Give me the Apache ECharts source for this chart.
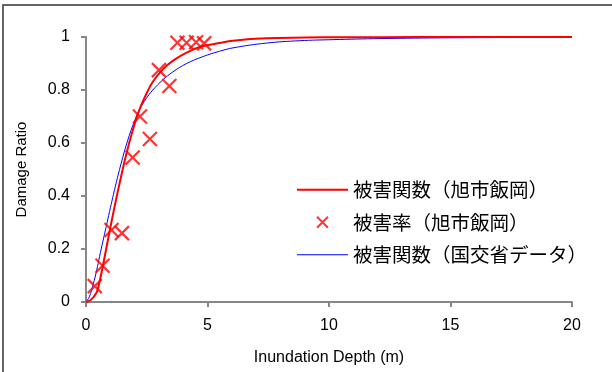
<!DOCTYPE html>
<html><head><meta charset="utf-8">
<script src="https://cdn.jsdelivr.net/npm/echarts@6/dist/echarts.min.js"></script>
<style>html,body{margin:0;padding:0;background:#fff}#c{width:612px;height:372px}</style>
</head><body><div id="c"></div>
<script>
// Tick labels
const xTicks = [0, 5, 10, 15, 20];
const yTicks = [0, 0.2, 0.4, 0.6, 0.8, 1];
// Series names
const nameRedFn = '被害関数（旭市飯岡）';
const nameRate = '被害率（旭市飯岡）';
const nameBlueFn = '被害関数（国交省データ）';
// Observed damage ratios (scatter)
const rateX = [0.36, 0.68, 1.05, 1.48, 1.92, 2.22, 2.63, 3.0, 3.43, 3.76, 4.14, 4.53, 4.86];
const rateY = [0.06, 0.137, 0.272, 0.26, 0.545, 0.70, 0.615, 0.875, 0.815, 0.978, 0.978, 0.98, 0.976];
// Damage function (Asahi Iioka)
const redX = [0, 0.2, 0.44, 0.56, 0.69, 0.83, 0.97, 1.1, 1.24, 1.38, 1.65, 1.93, 2.2, 2.48, 2.75, 3.16, 3.57, 4.12, 4.68, 5.49, 6.05, 7.42, 10, 12.1, 15, 20];
const redY = [0, 0.008, 0.037, 0.077, 0.134, 0.2, 0.266, 0.326, 0.388, 0.447, 0.555, 0.65, 0.726, 0.785, 0.831, 0.878, 0.91, 0.94, 0.962, 0.977, 0.986, 0.995, 0.999, 0.9995, 1, 1];
// Damage function (MLIT data)
const blueX = [0, 0.14, 0.3, 0.44, 0.56, 0.69, 0.83, 0.97, 1.1, 1.21, 1.38, 1.65, 1.93, 2.2, 2.48, 2.75, 3.16, 3.57, 4.12, 4.81, 5.49, 6.05, 7.42, 8.79, 10.16, 12.1, 15, 20];
const blueY = [0, 0.02, 0.068, 0.12, 0.172, 0.227, 0.284, 0.342, 0.394, 0.437, 0.5, 0.59, 0.667, 0.725, 0.768, 0.8, 0.838, 0.868, 0.899, 0.926, 0.946, 0.959, 0.977, 0.986, 0.99, 0.994, 0.997, 0.999];

const zip = (a, b) => a.map((v, i) => [v, b[i]]);
const crossPath = 'path://M0,0L10,10M10,0L0,10';
const latin = 'Liberation Sans, Arial, sans-serif';
const cjk = '"Noto Sans CJK JP", sans-serif';
const axisCol = '#878787';

const chart = echarts.init(document.getElementById('c'), null, {renderer: 'canvas'});
chart.setOption({
  animation: false,
  backgroundColor: '#fff',
  graphic: [{type: 'rect', shape: {x: 3, y: 5, width: 700, height: 500}, style: {fill: 'none', stroke: '#333', lineWidth: 1.5}, silent: true}],
  grid: {left: 86, right: 40, top: 37, bottom: 70},
  xAxis: {
    type: 'value', min: xTicks[0], max: xTicks[xTicks.length - 1], interval: 5,
    name: 'Inundation Depth (m)', nameLocation: 'middle', nameGap: 48,
    nameTextStyle: {fontFamily: latin, fontSize: 16, color: '#000'},
    axisLine: {lineStyle: {color: axisCol, width: 2}},
    axisTick: {show: true, length: 5, lineStyle: {color: axisCol, width: 2}},
    axisLabel: {fontFamily: latin, fontSize: 16, color: '#000', margin: 16},
    splitLine: {show: false}
  },
  yAxis: {
    type: 'value', min: yTicks[0], max: yTicks[yTicks.length - 1], interval: 0.2,
    name: 'Damage Ratio', nameLocation: 'middle', nameGap: 57, nameRotate: 90,
    nameTextStyle: {fontFamily: latin, fontSize: 15, color: '#000'},
    axisLine: {show: true, lineStyle: {color: axisCol, width: 2}},
    axisTick: {show: true, length: 5, lineStyle: {color: axisCol, width: 2}},
    axisLabel: {fontFamily: latin, fontSize: 16, color: '#000', margin: 16},
    splitLine: {show: false}
  },
  legend: {
    orient: 'vertical', left: 297, top: 180, itemGap: 13, padding: 0,
    itemWidth: 51, itemHeight: 11,
    textStyle: {fontFamily: cjk, fontSize: 19.5, color: '#000'},
    data: [
      {name: nameRedFn, icon: 'path://M0,0M51,11M0,4.5H51V6.5H0Z'},
      {name: nameRate, icon: crossPath},
      {name: nameBlueFn, icon: 'path://M0,0M51,11M0,5H51V6H0Z'}
    ]
  },
  series: [
    {name: nameBlueFn, type: 'line', data: zip(blueX, blueY), smooth: 0.4, symbol: 'none', showSymbol: false,
     lineStyle: {color: '#0000ff', width: 1}, itemStyle: {color: '#0000ff'}, z: 2},
    {name: nameRedFn, type: 'line', data: zip(redX, redY), smooth: 0.4, symbol: 'none', showSymbol: false,
     lineStyle: {color: '#ff0000', width: 2}, itemStyle: {color: '#ff0000'}, z: 3},
    {name: nameRate, type: 'scatter', data: zip(rateX, rateY), symbol: crossPath, symbolSize: 14, symbolKeepAspect: true,
     itemStyle: {color: 'rgba(0,0,0,0)', borderColor: '#ff0000', borderWidth: 2.2}, z: 4}
  ]
});
</script></body></html>
